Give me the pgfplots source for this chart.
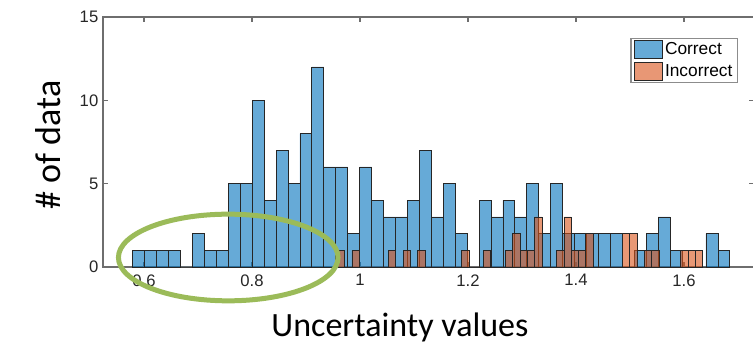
\documentclass[border=0pt]{standalone}
\usepackage{fontspec}
\setmainfont{Liberation Sans}
\newfontfamily\labelfont{Carlito}
\usepackage{pgfplots}
\pgfplotsset{compat=1.18}
\definecolor{mblue}{rgb}{0,0.447,0.741}
\definecolor{morange}{rgb}{0.85,0.325,0.098}
\definecolor{egreen}{RGB}{155,187,89}
\definecolor{axisgray}{RGB}{110,110,110}
\definecolor{ticktext}{RGB}{38,38,38}
\definecolor{legendgray}{RGB}{140,140,140}
\pgfplotsset{mylegend/.style={legend image code/.code={\draw[##1] (0pt,-6.4pt) rectangle (21pt,6.4pt);}}}
\begin{document}
\begin{tikzpicture}
\begin{axis}[
 scale only axis, width=488.4pt, height=187.5pt,
 xmin=0.5241, xmax=1.73, ymin=0, ymax=15,
 xtick={0.6,0.8,1,1.2,1.4,1.6}, ytick={0,5,10,15},
 tick align=inside, major tick length=4pt,
 axis line style={axisgray, line width=0.9pt},
 tick style={axisgray, line width=0.8pt},
 ticklabel style={font=\fontsize{12.5}{14}\selectfont, text=ticktext},
 /pgf/number format/assume math mode=true,
 xticklabel style={yshift=-2pt},
 xlabel={Uncertainty values}, ylabel={\# of data},
 xlabel style={font=\labelfont\fontsize{25.5}{30}\selectfont, at={(axis description cs:0.456,-0.24)}, anchor=center},
 ylabel style={font=\labelfont\fontsize{27}{32}\selectfont, at={(axis description cs:-0.0845,0.488)}, anchor=center},
 legend style={at={(axis description cs:0.9756,0.917)}, anchor=north east, draw=legendgray, line width=0.8pt, font=\fontsize{13}{15}\selectfont, inner xsep=2pt, inner ysep=1pt, row sep=2pt, cells={anchor=west}},
 clip=false,
]
\addplot[ybar interval, fill=mblue, fill opacity=0.6, draw=black!85, line width=0.5pt, mylegend] coordinates {
(0.5791,1)(0.6012,1)(0.6233,1)(0.6454,1)(0.6676,0)(0.6897,2)(0.7118,1)(0.7339,1)(0.7560,5)(0.7781,5)
(0.8002,10)(0.8224,4)(0.8445,7)(0.8666,5)(0.8887,8)(0.9108,12)(0.9329,6)(0.9550,6)(0.9772,2)(0.9993,6)
(1.0214,4)(1.0435,3)(1.0656,3)(1.0877,4)(1.1098,7)(1.1320,3)(1.1541,5)(1.1762,2)(1.1983,0)(1.2204,4)
(1.2425,3)(1.2646,4)(1.2867,3)(1.3089,5)(1.3310,2)(1.3531,5)(1.3752,2)(1.3973,2)(1.4194,2)(1.4415,2)
(1.4637,2)(1.4858,0)(1.5079,1)(1.5300,2)(1.5521,3)(1.5742,1)(1.5963,0)(1.6185,0)(1.6406,2)(1.6627,1)
(1.6848,0)};
\addlegendentry{Correct}
\addplot[ybar interval, fill=morange, fill opacity=0.6, draw=black!85, line width=0.5pt, mylegend] coordinates {
(0.9580,1)(0.9715,0)(0.9851,1)(0.9986,0)(1.0121,0)(1.0257,0)(1.0392,0)(1.0527,1)(1.0663,0)(1.0798,1)
(1.0933,0)(1.1069,1)(1.1204,0)(1.1339,0)(1.1475,0)(1.1610,0)(1.1745,0)(1.1881,1)(1.2016,0)(1.2151,0)
(1.2287,1)(1.2422,0)(1.2557,0)(1.2693,1)(1.2828,2)(1.2963,1)(1.3099,1)(1.3234,3)(1.3369,0)(1.3505,0)
(1.3640,1)(1.3775,3)(1.3911,1)(1.4046,1)(1.4181,2)(1.4317,0)(1.4452,0)(1.4587,0)(1.4723,0)(1.4858,2)
(1.4993,2)(1.5129,0)(1.5264,1)(1.5399,1)(1.5535,0)(1.5670,0)(1.5805,0)(1.5941,1)(1.6076,1)(1.6211,1)
(1.6347,0)};
\addlegendentry{Incorrect}
\draw[egreen, line width=3.75pt] (axis cs:0.756,0.57) ellipse [x radius=82.35pt, y radius=32.5pt];
\end{axis}
\pgfresetboundingbox
\path[use as bounding box] (-77.25pt,-63.75pt) rectangle (487.5pt,200.25pt);
\end{tikzpicture}
\end{document}
